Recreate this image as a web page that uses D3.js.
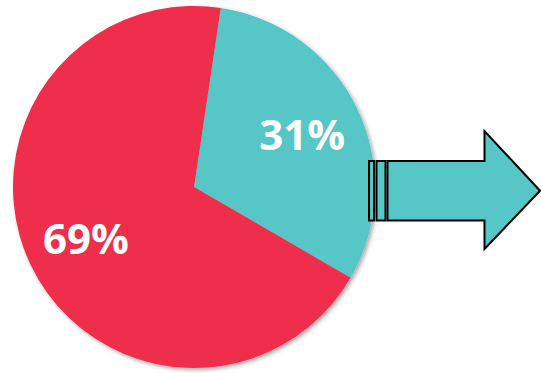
<!DOCTYPE html>
<html>
<head>
<meta charset="utf-8">
<script src="https://cdn.jsdelivr.net/npm/d3@7"></script>
<style>
  html, body { margin: 0; padding: 0; background: #fff; }
  svg { display: block; }
</style>
</head>
<body>
<div id="chart"></div>
<script>
// slice data, clockwise from just right of 12 o'clock
var labels = ['31%', '69%'];
var values = [31, 69];
var colors = ['#56C6C7', '#EE2D4B'];

var width = 541, height = 373;
var cx = 194, cy = 187, radius = 181;
var startDeg = 8.5;

var svg = d3.select('#chart').append('svg')
    .attr('width', width)
    .attr('height', height);

var defs = svg.append('defs');
var shadow = defs.append('filter').attr('id', 'shadow')
    .attr('x', '-10%').attr('y', '-10%').attr('width', '120%').attr('height', '120%');
shadow.append('feDropShadow')
    .attr('dx', 2).attr('dy', 2).attr('stdDeviation', 2)
    .attr('flood-color', '#000').attr('flood-opacity', 0.35);

var pie = d3.pie().sort(null)
    .startAngle(startDeg * Math.PI / 180)
    .endAngle(startDeg * Math.PI / 180 + 2 * Math.PI);

var arc = d3.arc().innerRadius(0).outerRadius(radius);
var labelArc = d3.arc().innerRadius(120).outerRadius(120);

var slices = pie(values);

var g = svg.append('g').attr('transform', 'translate(' + cx + ',' + cy + ')');

g.append('g').attr('filter', 'url(#shadow)')
    .selectAll('path')
    .data(slices)
    .enter().append('path')
    .attr('d', arc)
    .attr('fill', function (d, i) { return colors[i]; });

g.selectAll('text.lbl')
    .data(slices)
    .enter().append('text')
    .attr('class', 'lbl')
    .attr('transform', function (d) { return 'translate(' + labelArc.centroid(d) + ')'; })
    .attr('text-anchor', 'middle')
    .attr('dy', '0.36em')
    .style('font-family', '"Open Sans", sans-serif')
    .style('font-weight', 'bold')
    .style('font-size', '42px')
    .style('fill', '#fff')
    .text(function (d, i) { return labels[i]; });

// arrow pointing right, with the two little bars at its tail
var shaftTop = 161, shaftBot = 220.5;
var bodyX = 387.5, headX = 484.5, tipX = 540, headTop = 131, headBot = 249;
var midY = (shaftTop + shaftBot) / 2;

var arrow = svg.append('g')
    .attr('fill', colors[0])
    .attr('stroke', '#000')
    .attr('stroke-width', 2)
    .attr('stroke-linejoin', 'miter');

[[369, 374], [376.5, 385.5]].forEach(function (b) {
    arrow.append('rect')
        .attr('x', b[0]).attr('y', shaftTop)
        .attr('width', b[1] - b[0]).attr('height', shaftBot - shaftTop);
});

arrow.append('path')
    .attr('d', d3.line()([
        [bodyX, shaftTop], [headX, shaftTop], [headX, headTop], [tipX, midY],
        [headX, headBot], [headX, shaftBot], [bodyX, shaftBot]
    ]) + 'Z');
</script>
</body>
</html>
